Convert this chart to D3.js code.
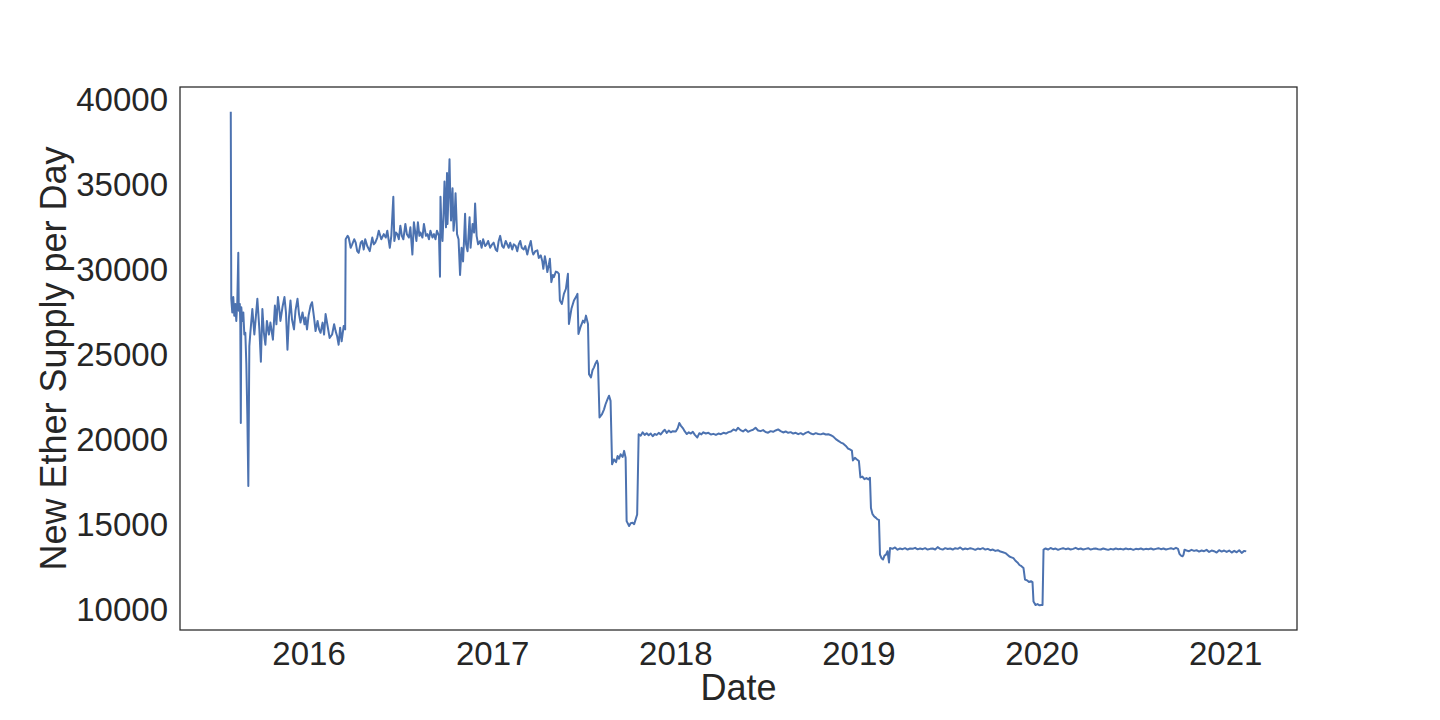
<!DOCTYPE html>
<html>
<head>
<meta charset="utf-8">
<script src="https://cdn.jsdelivr.net/npm/d3@7"></script>
<style>
  body { margin: 0; background: #fff; }
  svg text { font-family: "Liberation Sans", Arial, sans-serif; fill: #262626; }
</style>
</head>
<body>
<svg id="svg" width="1440" height="720"></svg>
<script>
// daily new ether supply (date, ether)
const supply2015 = [
  ["2015-07-30",39300],["2015-07-31",28300],["2015-08-02",27500],["2015-08-04",28400],["2015-08-06",27300],
  ["2015-08-08",28000],["2015-08-10",27000],["2015-08-12",28100],["2015-08-14",31000],["2015-08-15",27600],
  ["2015-08-17",28000],["2015-08-18",26800],["2015-08-19",21000],["2015-08-20",27800],["2015-08-22",27000],
  ["2015-08-24",27500],["2015-08-26",26200],["2015-08-28",26300],["2015-08-30",24500],["2015-09-01",21500],
  ["2015-09-03",17300],["2015-09-05",25500],["2015-09-07",26300],["2015-09-11",27700],["2015-09-15",26200],
  ["2015-09-21",28300],["2015-09-25",26500],["2015-09-28",24600],["2015-10-01",27700],["2015-10-04",26300],
  ["2015-10-07",25600],["2015-10-10",27000],["2015-10-14",26200],["2015-10-17",26900],["2015-10-22",25900],
  ["2015-10-26",27900],["2015-10-29",26800],["2015-11-01",28400],["2015-11-04",27600],["2015-11-06",27000],
  ["2015-11-10",27800],["2015-11-14",28400],["2015-11-17",27500],["2015-11-20",25300],["2015-11-23",27200],
  ["2015-11-26",28200],["2015-11-29",27100],["2015-12-03",26500],["2015-12-06",27600],["2015-12-10",28300],
  ["2015-12-13",27400],["2015-12-16",26900],["2015-12-20",27500],["2015-12-24",26800],["2015-12-26",27200],
  ["2015-12-29",26500]
];

const supply2016 = [
  ["2016-01-01",27300],["2016-01-05",27900],["2016-01-08",28100],["2016-01-12",27200],["2016-01-15",26400],
  ["2016-01-19",27000],["2016-01-22",26500],["2016-01-25",26300],["2016-01-29",26900],["2016-02-01",26200],
  ["2016-02-04",27400],["2016-02-08",26700],["2016-02-12",26000],["2016-02-17",26200],["2016-02-21",26800],
  ["2016-02-24",26400],["2016-02-27",26100],["2016-03-01",25600],["2016-03-04",26600],["2016-03-07",25800],
  ["2016-03-11",26700],["2016-03-14",26500],["2016-03-15",31800],["2016-03-19",32000],["2016-03-21",31900],
  ["2016-03-25",31300],["2016-03-28",31500],["2016-04-01",31800],["2016-04-04",31600],["2016-04-07",31100],
  ["2016-04-10",31000],["2016-04-14",31600],["2016-04-17",31700],["2016-04-20",31200],["2016-04-23",31800],
  ["2016-04-27",31400],["2016-05-02",31100],["2016-05-07",31900],["2016-05-10",31500],["2016-05-13",31600],
  ["2016-05-17",31900],["2016-05-20",32300],["2016-05-25",31800],["2016-05-30",32100],["2016-06-03",31900],
  ["2016-06-06",32300],["2016-06-11",31300],["2016-06-14",32000],["2016-06-18",34300],["2016-06-20",31700],
  ["2016-06-23",32200],["2016-06-26",32100],["2016-06-29",31800],["2016-07-02",32600],["2016-07-05",32000],
  ["2016-07-08",31800],["2016-07-12",32700],["2016-07-15",32100],["2016-07-19",31900],["2016-07-22",32500],
  ["2016-07-26",30900],["2016-07-29",32800],["2016-08-03",31700],["2016-08-06",32800],["2016-08-09",32000],
  ["2016-08-11",32200],["2016-08-15",31900],["2016-08-18",32700],["2016-08-22",32000],["2016-08-25",32100],
  ["2016-08-28",31800],["2016-08-31",32300],["2016-09-04",31900],["2016-09-07",32100],["2016-09-10",31800],
  ["2016-09-13",32300],["2016-09-17",32000],["2016-09-19",29600],["2016-09-20",34300],["2016-09-22",32400],
  ["2016-09-24",31700],["2016-09-26",33200],["2016-09-28",35200],["2016-10-01",32500],["2016-10-03",35700],
  ["2016-10-04",32700],["2016-10-06",34500],["2016-10-08",36500],["2016-10-09",35000],["2016-10-11",32900],
  ["2016-10-14",34800],["2016-10-16",32300],["2016-10-18",33000],["2016-10-20",34500],["2016-10-23",32100],
  ["2016-10-26",31800],["2016-10-29",29700],["2016-11-01",31300],["2016-11-04",30500],["2016-11-06",31800],
  ["2016-11-08",33300],["2016-11-10",31500],["2016-11-13",31100],["2016-11-17",33100],["2016-11-19",31300],
  ["2016-11-23",32700],["2016-11-26",32200],["2016-11-28",33900],["2016-12-01",32000],["2016-12-04",31500],
  ["2016-12-08",31700],["2016-12-11",31300],["2016-12-14",31800],["2016-12-18",31400],["2016-12-21",31500],
  ["2016-12-24",31700],["2016-12-28",31300]
];

const supply2017 = [
  ["2017-01-01",31500],["2017-01-04",31600],["2017-01-08",31200],["2017-01-11",31100],["2017-01-14",31700],
  ["2017-01-17",32000],["2017-01-21",31400],["2017-01-24",31300],["2017-01-28",31700],["2017-01-31",31500],
  ["2017-02-03",31300],["2017-02-06",31600],["2017-02-10",31200],["2017-02-13",31500],["2017-02-17",31400],
  ["2017-02-20",31100],["2017-02-23",31500],["2017-02-26",31700],["2017-03-01",31300],["2017-03-05",31200],
  ["2017-03-08",31400],["2017-03-12",30900],["2017-03-15",31300],["2017-03-19",31700],["2017-03-22",31100],
  ["2017-03-24",30900],["2017-03-28",31100],["2017-04-01",31150],["2017-04-04",30700],["2017-04-08",30850],
  ["2017-04-11",30500],["2017-04-13",30060],["2017-04-16",30800],["2017-04-18",30500],["2017-04-21",29870],
  ["2017-04-24",30300],["2017-04-26",30650],["2017-04-29",29280],["2017-05-02",29700],["2017-05-04",29570],
  ["2017-05-08",29900],["2017-05-11",29870],["2017-05-14",29770],["2017-05-16",28200],["2017-05-20",28000],
  ["2017-05-24",28590],["2017-05-28",28890],["2017-06-01",29770],["2017-06-03",26820],["2017-06-08",27710],
  ["2017-06-13",28200],["2017-06-17",28400],["2017-06-20",28590],["2017-06-22",26230],["2017-06-26",26630],
  ["2017-07-01",27020],["2017-07-04",26900],["2017-07-07",27310],["2017-07-11",26820],["2017-07-13",23870],
  ["2017-07-17",23680],["2017-07-20",24100],["2017-07-23",24270],["2017-07-26",24500],["2017-07-29",24660],
  ["2017-07-31",24460],["2017-08-03",21320],["2017-08-08",21520],["2017-08-12",21800],["2017-08-15",22100],
  ["2017-08-19",22400],["2017-08-22",22600],["2017-08-25",22300],["2017-08-28",18570],["2017-09-01",18860],
  ["2017-09-05",18700],["2017-09-08",19060],["2017-09-11",18900],["2017-09-14",19160],["2017-09-18",19000],
  ["2017-09-21",19360],["2017-09-24",18960],["2017-09-26",15230],["2017-10-01",14940],["2017-10-04",15100],
  ["2017-10-08",15130],["2017-10-11",15050],["2017-10-14",15330],["2017-10-17",15620],["2017-10-20",20340],
  ["2017-10-24",20250],["2017-10-28",20450],["2017-11-01",20300],["2017-11-05",20400],["2017-11-09",20280],
  ["2017-11-13",20380],["2017-11-17",20220],["2017-11-21",20350],["2017-11-25",20300],["2017-11-29",20420],
  ["2017-12-03",20330],["2017-12-07",20480],["2017-12-11",20600],["2017-12-15",20420],["2017-12-19",20550],
  ["2017-12-23",20450],["2017-12-27",20520]
];

const supply2018 = [
  ["2018-01-02",20500],["2018-01-06",20700],["2018-01-09",21000],["2018-01-12",20850],["2018-01-16",20700],
  ["2018-01-20",20500],["2018-01-24",20350],["2018-01-28",20450],["2018-02-01",20380],["2018-02-05",20480],
  ["2018-02-09",20300],["2018-02-14",20150],["2018-02-18",20400],["2018-02-22",20330],["2018-02-26",20450],
  ["2018-03-03",20380],["2018-03-08",20420],["2018-03-13",20320],["2018-03-18",20360],["2018-03-23",20300],
  ["2018-03-28",20380],["2018-04-02",20340],["2018-04-07",20420],["2018-04-12",20380],["2018-04-17",20460],
  ["2018-04-22",20500],["2018-04-27",20620],["2018-05-02",20550],["2018-05-06",20720],["2018-05-11",20580],
  ["2018-05-16",20500],["2018-05-21",20620],["2018-05-26",20480],["2018-05-31",20550],["2018-06-05",20600],
  ["2018-06-10",20720],["2018-06-15",20560],["2018-06-20",20520],["2018-06-25",20580],["2018-06-30",20470],
  ["2018-07-05",20430],["2018-07-10",20520],["2018-07-15",20480],["2018-07-20",20560],["2018-07-25",20620],
  ["2018-07-30",20520],["2018-08-04",20440],["2018-08-09",20500],["2018-08-14",20420],["2018-08-19",20460],
  ["2018-08-24",20380],["2018-08-29",20420],["2018-09-03",20340],["2018-09-08",20400],["2018-09-13",20320],
  ["2018-09-18",20420],["2018-09-23",20480],["2018-09-28",20380],["2018-10-03",20330],["2018-10-08",20400],
  ["2018-10-13",20350],["2018-10-18",20330],["2018-10-23",20380],["2018-10-28",20320],["2018-11-02",20340],
  ["2018-11-07",20280],["2018-11-12",20200],["2018-11-17",20050],["2018-11-22",19950],["2018-11-27",19850],
  ["2018-12-02",19780],["2018-12-07",19650],["2018-12-11",19500],["2018-12-15",19450],["2018-12-19",19380],
  ["2018-12-21",18800],["2018-12-25",18950],["2018-12-29",18850]
];

const supply2019 = [
  ["2019-01-02",18760],["2019-01-05",17800],["2019-01-09",17850],["2019-01-13",17700],["2019-01-17",17760],
  ["2019-01-21",17680],["2019-01-24",17780],["2019-01-26",16000],["2019-01-29",15650],["2019-02-01",15520],
  ["2019-02-05",15420],["2019-02-08",15330],["2019-02-11",15300],["2019-02-13",13260],["2019-02-16",13050],
  ["2019-02-19",12970],["2019-02-22",13200],["2019-02-25",13260],["2019-02-28",13460],["2019-03-03",12800],
  ["2019-03-05",13650],["2019-03-10",13600],["2019-03-15",13680],["2019-03-20",13550],["2019-03-25",13620],
  ["2019-03-30",13580],["2019-04-04",13640],["2019-04-09",13560],["2019-04-14",13620],["2019-04-19",13600],
  ["2019-04-24",13660],["2019-04-29",13570],["2019-05-04",13620],["2019-05-09",13580],["2019-05-14",13640],
  ["2019-05-19",13560],["2019-05-24",13600],["2019-05-29",13620],["2019-06-03",13560],["2019-06-08",13700],
  ["2019-06-13",13600],["2019-06-18",13560],["2019-06-23",13640],["2019-06-28",13590],["2019-07-03",13620],
  ["2019-07-08",13560],["2019-07-13",13640],["2019-07-18",13600],["2019-07-23",13680],["2019-07-28",13560],
  ["2019-08-02",13620],["2019-08-07",13580],["2019-08-12",13640],["2019-08-17",13600],["2019-08-22",13540],
  ["2019-08-27",13620],["2019-09-01",13580],["2019-09-06",13640],["2019-09-11",13560],["2019-09-16",13600],
  ["2019-09-21",13520],["2019-09-26",13560],["2019-10-01",13480],["2019-10-06",13520],["2019-10-11",13440],
  ["2019-10-16",13400],["2019-10-21",13350],["2019-10-25",13250],["2019-10-29",13150],["2019-11-02",13100],
  ["2019-11-06",13050],["2019-11-10",12900],["2019-11-14",12800],["2019-11-18",12650],["2019-11-22",12580],
  ["2019-11-26",12480],["2019-11-29",11800],["2019-12-03",11750],["2019-12-07",11650],["2019-12-11",11700],
  ["2019-12-14",11650],["2019-12-16",10500],["2019-12-20",10300],["2019-12-24",10350],["2019-12-28",10280]
];

const supply2020 = [
  ["2020-01-01",10300],["2020-01-03",10300],["2020-01-05",13560],["2020-01-09",13620],["2020-01-14",13560],
  ["2020-01-19",13650],["2020-01-24",13580],["2020-01-29",13620],["2020-02-03",13540],["2020-02-08",13600],
  ["2020-02-13",13640],["2020-02-18",13580],["2020-02-23",13620],["2020-02-28",13560],["2020-03-04",13600],
  ["2020-03-09",13660],["2020-03-14",13580],["2020-03-19",13620],["2020-03-24",13560],["2020-03-29",13600],
  ["2020-04-03",13640],["2020-04-08",13560],["2020-04-13",13600],["2020-04-18",13620],["2020-04-23",13580],
  ["2020-04-28",13560],["2020-05-03",13620],["2020-05-08",13580],["2020-05-13",13540],["2020-05-18",13600],
  ["2020-05-23",13560],["2020-05-28",13620],["2020-06-02",13580],["2020-06-07",13600],["2020-06-12",13560],
  ["2020-06-17",13620],["2020-06-22",13580],["2020-06-27",13600],["2020-07-02",13540],["2020-07-07",13600],
  ["2020-07-12",13580],["2020-07-17",13620],["2020-07-22",13560],["2020-07-27",13600],["2020-08-01",13580],
  ["2020-08-06",13620],["2020-08-11",13560],["2020-08-16",13600],["2020-08-21",13640],["2020-08-26",13580],
  ["2020-08-31",13620],["2020-09-05",13560],["2020-09-10",13600],["2020-09-15",13640],["2020-09-20",13580],
  ["2020-09-25",13660],["2020-09-29",13600],["2020-10-02",13300],["2020-10-05",13200],["2020-10-08",13160],
  ["2020-10-10",13250],["2020-10-12",13550],["2020-10-16",13500],["2020-10-21",13460],["2020-10-26",13540],
  ["2020-10-31",13480],["2020-11-05",13520],["2020-11-10",13440],["2020-11-15",13500],["2020-11-20",13460],
  ["2020-11-25",13540],["2020-11-30",13420],["2020-12-05",13500],["2020-12-10",13460],["2020-12-15",13380],
  ["2020-12-20",13520],["2020-12-25",13440],["2020-12-30",13500]
];

const supply2021 = [
  ["2021-01-04",13420],["2021-01-09",13500],["2021-01-14",13380],["2021-01-19",13480],["2021-01-24",13400],
  ["2021-01-29",13520],["2021-02-03",13360],["2021-02-08",13480],["2021-02-12",13450]
];

const yTicks = [10000, 15000, 20000, 25000, 30000, 35000, 40000];
const xLabel = "Date";
const yLabel = "New Ether Supply per Day";

const width = 1440, height = 720;
const margin = {left: 180, right: 143, top: 87, bottom: 90};

const parse = d3.timeParse("%Y-%m-%d");
const data = [].concat(supply2015, supply2016, supply2017, supply2018, supply2019, supply2020, supply2021)
  .map(d => ({date: parse(d[0]), value: d[1]}));

const svg = d3.select("#svg");

// matplotlib-like 5% padding on both axes
const xExt = d3.extent(data, d => d.date);
const xPad = (xExt[1] - xExt[0]) * 0.05;
const x = d3.scaleTime()
  .domain([new Date(+xExt[0] - xPad), new Date(+xExt[1] + xPad)])
  .range([margin.left, width - margin.right]);

const yExt = d3.extent(data, d => d.value);
const yPad = (yExt[1] - yExt[0]) * 0.05;
const y = d3.scaleLinear()
  .domain([yExt[0] - yPad, yExt[1] + yPad])
  .range([height - margin.bottom, margin.top]);

const line = d3.line()
  .x(d => x(d.date))
  .y(d => y(d.value));

svg.append("path")
  .datum(data)
  .attr("fill", "none")
  .attr("stroke", "#4c72b0")
  .attr("stroke-width", 2)
  .attr("stroke-linejoin", "round")
  .attr("d", line);

// axes, no tick marks (seaborn white style)
const xAxis = svg.append("g")
  .attr("transform", `translate(0,${height - margin.bottom})`)
  .call(d3.axisBottom(x).ticks(d3.timeYear.every(1)).tickFormat(d3.timeFormat("%Y")).tickSize(0).tickPadding(12));

const yAxis = svg.append("g")
  .attr("transform", `translate(${margin.left},0)`)
  .call(d3.axisLeft(y).tickValues(yTicks).tickFormat(d3.format("d")).tickSize(0).tickPadding(12));

[xAxis, yAxis].forEach(g => {
  g.select(".domain").remove();
  g.selectAll("text").style("font-size", "33px").attr("fill", "#262626")
    .style("font-family", '"Liberation Sans", Arial, sans-serif');
});

// frame
svg.append("rect")
  .attr("x", margin.left)
  .attr("y", margin.top)
  .attr("width", width - margin.left - margin.right)
  .attr("height", height - margin.top - margin.bottom)
  .attr("fill", "none")
  .attr("stroke", "#262626")
  .attr("stroke-width", 1.25);

svg.append("text")
  .attr("x", (margin.left + width - margin.right) / 2)
  .attr("y", 700)
  .attr("text-anchor", "middle")
  .style("font-size", "36px")
  .text(xLabel);

svg.append("text")
  .attr("transform", `translate(66,${(margin.top + height - margin.bottom) / 2}) rotate(-90)`)
  .attr("text-anchor", "middle")
  .style("font-size", "36px")
  .text(yLabel);
</script>
</body>
</html>
